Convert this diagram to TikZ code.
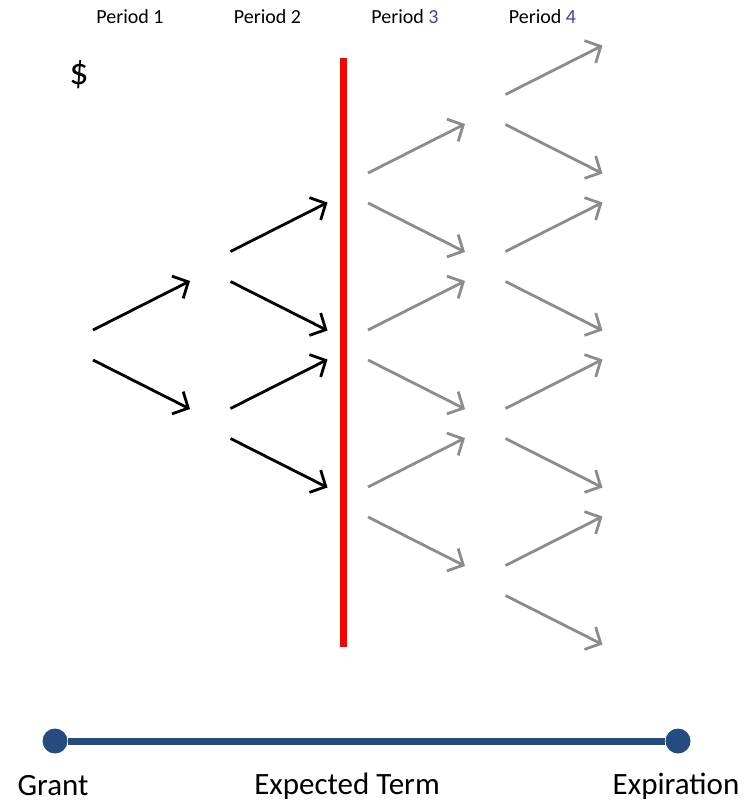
\documentclass[tikz,border=0pt]{standalone}
\usepackage{fontspec}
\setmainfont{Carlito}
\usetikzlibrary{arrows.meta,positioning,calc}
\definecolor{termblue}{RGB}{37,76,128}
\definecolor{numblue}{RGB}{64,64,170}
\definecolor{pathgray}{RGB}{140,140,140}
\tikzset{
  move/.style = {-{Straight Barb[length=12pt,width=25pt]}, line width=2.8pt},
  head/.style = {font=\fontsize{20}{22}\selectfont, inner sep=0pt},
  tl/.style   = {font=\fontsize{31}{34}\selectfont, inner sep=0pt},
  dot/.style  = {circle, fill=termblue, minimum size=25pt, inner sep=0pt}
}
\begin{document}
\begin{tikzpicture}[x=1pt, y=-1pt]
  \useasboundingbox (0,0) rectangle (748,804);
  % period headings
  \foreach \i/\col in {1/black,2/black,3/numblue,4/numblue}
    \node[head] (per\i) at ({130+137.5*(\i-1)},17) {Period \textcolor{\col}{\i}};
  \node[font=\fontsize{38}{38}\selectfont, inner sep=0pt] (dollar) at (79,75) {\$};

  % binomial tree, level \l has \l+1 starting points
  \foreach \l/\c in {0/black,1/black,2/pathgray,3/pathgray} {
    \pgfmathsetmacro{\xa}{93+137.5*\l}
    \foreach \k in {0,...,\l} {
      \pgfmathsetmacro{\yc}{345+78.5*(2*\k-\l)}
      \coordinate (u\l\k) at (\xa,\yc-15);
      \coordinate (U\l\k) at (\xa+97,\yc-64);
      \coordinate (d\l\k) at (\xa,\yc+15);
      \coordinate (D\l\k) at (\xa+97,\yc+64);
      \draw[move, \c] (u\l\k) -- (U\l\k);
      \draw[move, \c] (d\l\k) -- (D\l\k);
    }
  }

  % expected term cut
  \coordinate (cuttop) at (343,58);
  \coordinate (cutbot) at (343,647);
  \draw[red, line width=7pt] (cuttop) -- (cutbot);

  % time line
  \node[dot] (grant) at (55,741) {};
  \node[dot] (expiry) at (678,741) {};
  \draw[termblue, line width=7pt] (grant) -- (expiry);
  \node[tl] (grantlbl) at (53,786) {Grant};
  \node[tl] (termlbl) at (347,786) {Expected Term};
  \node[tl] (expirylbl) at (676,786) {Expiration};
\end{tikzpicture}
\end{document}
